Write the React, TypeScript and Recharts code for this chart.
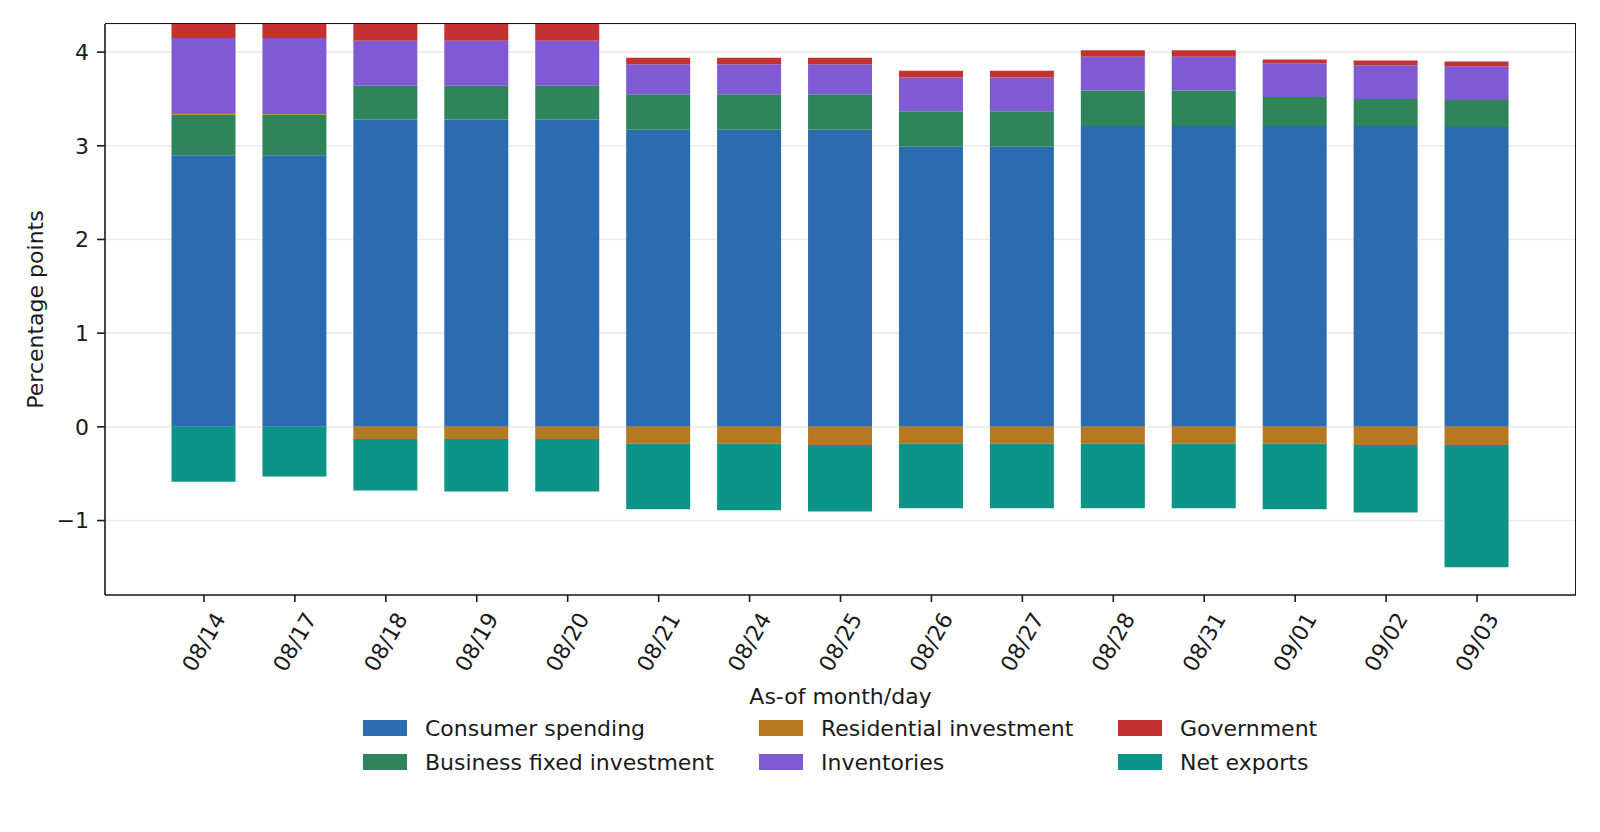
import React from "react"
import {
  BarChart,
  Bar,
  XAxis,
  YAxis,
  CartesianGrid,
  Label,
} from "recharts"

const DATES = ["08/14", "08/17", "08/18", "08/19", "08/20", "08/21", "08/24", "08/25", "08/26", "08/27", "08/28", "08/31", "09/01", "09/02", "09/03"]
const CONSUMER = [2.9, 2.9, 3.28, 3.28, 3.28, 3.17, 3.17, 3.17, 2.99, 2.99, 3.21, 3.21, 3.21, 3.21, 3.2]
const BUSINESS = [0.43, 0.43, 0.36, 0.36, 0.36, 0.38, 0.38, 0.38, 0.38, 0.38, 0.38, 0.38, 0.31, 0.29, 0.29]
const RESIDENTIAL = [0.02, 0.01, -0.13, -0.13, -0.13, -0.18, -0.18, -0.195, -0.18, -0.18, -0.18, -0.18, -0.18, -0.195, -0.195]
const INVENTORIES = [0.8, 0.81, 0.48, 0.48, 0.48, 0.32, 0.32, 0.32, 0.36, 0.36, 0.36, 0.36, 0.36, 0.36, 0.36]
const GOVERNMENT = [0.3, 0.3, 0.3, 0.3, 0.3, 0.07, 0.07, 0.07, 0.07, 0.07, 0.07, 0.07, 0.04, 0.05, 0.05]
const NET_EXPORTS = [-0.585, -0.53, -0.55, -0.56, -0.56, -0.7, -0.71, -0.71, -0.69, -0.69, -0.69, -0.69, -0.7, -0.72, -1.305]
const Y_TICKS = [-1, 0, 1, 2, 3, 4]

const SERIES = [
  { key: "consumer", name: "Consumer spending", color: "#2b6cb0" },
  { key: "business", name: "Business fixed investment", color: "#2f855a" },
  { key: "residential", name: "Residential investment", color: "#b7791f" },
  { key: "inventories", name: "Inventories", color: "#805ad5" },
  { key: "government", name: "Government", color: "#c53030" },
  { key: "netExports", name: "Net exports", color: "#0d9488" },
]

// legend is laid out column-wise like matplotlib's ncol=3
const LEGEND_COLS = [
  { left: 363, keys: ["consumer", "business"] },
  { left: 759, keys: ["residential", "inventories"] },
  { left: 1118, keys: ["government", "netExports"] },
]

const FONT = "'DejaVu Sans', sans-serif"
const FS = 22
const INK = "#1a1a1a"

const data = DATES.map((d, i) => ({
  date: d,
  consumer: CONSUMER[i],
  business: BUSINESS[i],
  residential: RESIDENTIAL[i],
  inventories: INVENTORIES[i],
  government: GOVERNMENT[i],
  netExports: NET_EXPORTS[i],
}))

const fmt = (v: number) => (v < 0 ? `\u2212${Math.abs(v)}` : `${v}`)

function DateTick({ x, payload }: any) {
  return (
    <text
      x={0}
      y={0}
      transform={`translate(${x},642) rotate(-60)`}
      textAnchor="middle"
      dominantBaseline="central"
      fontFamily={FONT}
      fontSize={FS}
      fill={INK}
    >
      {payload.value}
    </text>
  )
}

export default function App() {
  const byKey: Record<string, (typeof SERIES)[number]> = {}
  SERIES.forEach((s) => { byKey[s.key] = s })

  return (
    <div style={{ position: "absolute", left: 0, top: 0, width: 1600, height: 832, background: "#fff", fontFamily: FONT }}>
      <BarChart
        width={1600}
        height={832}
        data={data}
        stackOffset="sign"
        margin={{ top: 24, right: 24, left: 0, bottom: 137 }}
      >
        <XAxis
          dataKey="date"
          height={100}
          padding={{ left: 53.5, right: 53.5 }}
          interval={0}
          tick={<DateTick />}
          tickSize={7}
          axisLine={{ stroke: INK, strokeWidth: 1.6 }}
          tickLine={{ stroke: INK, strokeWidth: 1.6 }}
        >
          <Label
            content={({ viewBox }: any) => (
              <text
                x={viewBox.x + viewBox.width / 2}
                y={viewBox.y + 101}
                textAnchor="middle"
                dominantBaseline="central"
                fontFamily={FONT}
                fontSize={FS}
                fill={INK}
              >
                As-of month/day
              </text>
            )}
          />
        </XAxis>
        <YAxis
          width={105}
          domain={[-1.795, 4.3]}
          allowDataOverflow
          ticks={Y_TICKS}
          tickFormatter={fmt}
          tickSize={8}
          tickMargin={8}
          tick={{ fontFamily: FONT, fontSize: FS, fill: INK }}
          axisLine={{ stroke: INK, strokeWidth: 1.6 }}
          tickLine={{ stroke: INK, strokeWidth: 1.6 }}
        >
          <Label
            content={({ viewBox }: any) => (
              <text
                x={0}
                y={0}
                transform={`translate(35,${viewBox.y + viewBox.height / 2}) rotate(-90)`}
                textAnchor="middle"
                dominantBaseline="central"
                fontFamily={FONT}
                fontSize={FS}
                fill={INK}
              >
                Percentage points
              </text>
            )}
          />
        </YAxis>
        {SERIES.map((s) => (
          <Bar
            key={s.key}
            dataKey={s.key}
            name={s.name}
            stackId="a"
            fill={s.color}
            barSize={64}
            isAnimationActive={false}
          />
        ))}
        <CartesianGrid vertical={false} stroke="#b0b0b0" strokeOpacity={0.25} strokeWidth={1.6} />
      </BarChart>

      {/* top and right spines of the axes box */}
      <div
        style={{
          position: "absolute",
          left: 105,
          top: 23.2,
          width: 1471 + 0.8 - 1.6,
          height: 571,
          borderTop: `1.6px solid ${INK}`,
          borderRight: `1.6px solid ${INK}`,
          pointerEvents: "none",
        }}
      />

      {LEGEND_COLS.map((col) =>
        col.keys.map((k, r) => (
          <div
            key={k}
            style={{
              position: "absolute",
              left: col.left,
              top: 728 + r * 34 - 15,
              height: 30,
              display: "flex",
              alignItems: "center",
              fontSize: FS,
              color: INK,
              whiteSpace: "nowrap",
            }}
          >
            <span style={{ display: "inline-block", width: 44, height: 16, background: byKey[k].color, marginRight: 18 }} />
            {byKey[k].name}
          </div>
        ))
      )}
    </div>
  )
}
